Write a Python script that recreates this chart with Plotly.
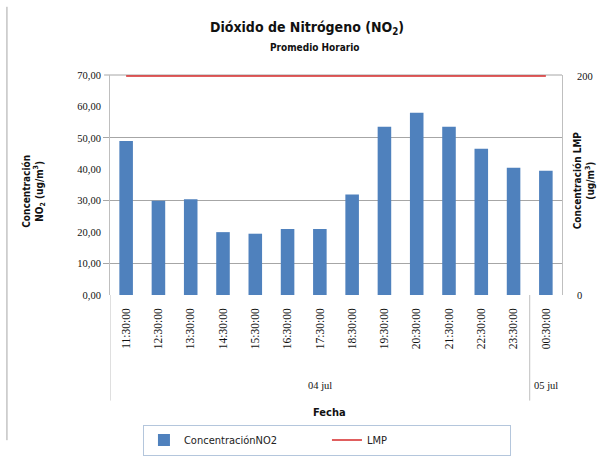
import plotly.graph_objects as go

# ---- data ----
horas = ["11:30:00", "12:30:00", "13:30:00", "14:30:00", "15:30:00", "16:30:00", "17:30:00",
         "18:30:00", "19:30:00", "20:30:00", "21:30:00", "22:30:00", "23:30:00", "00:30:00"]
concentracion_no2 = [49.0, 30.0, 30.5, 20.0, 19.5, 21.0, 21.0, 32.0, 53.5, 58.0, 53.5, 46.5, 40.5, 39.5]
lmp = [200] * len(horas)
dias = ["04 jul", "05 jul"]
dia_centro = [6, 13]          # category index at the centre of each day group
dia_limites = [-0.5, 12.5]     # category boundaries between day groups
y_ticks = [0, 10, 20, 30, 40, 50, 60, 70]
y_ticktext = ["0,00", "10,00", "20,00", "30,00", "40,00", "50,00", "60,00", "70,00"]
y2_ticks = [0, 200]

SANS = "Liberation Sans Narrow, DejaVu Sans Condensed, Arial, sans-serif"
SERIF = "Liberation Serif, DejaVu Serif, serif"
GRID = "#A6A6A6"

fig = go.Figure()
fig.add_trace(go.Bar(
    x=list(range(len(horas))), y=concentracion_no2, name="ConcentraciónNO2",
    marker=dict(color="#4F81BD", line=dict(width=0)), yaxis="y",
))
fig.add_trace(go.Scatter(
    x=list(range(len(horas))), y=lmp, name="LMP", mode="lines",
    line=dict(color="#D62828", width=1.5), yaxis="y2",
))

fig.update_layout(
    width=604, height=457,
    margin=dict(l=110, r=42, t=75, b=162, autoexpand=False),
    paper_bgcolor="white", plot_bgcolor="white",
    bargap=0.58,
    showlegend=True,
    legend=dict(orientation="h", x=0.48, xanchor="center", xref="paper",
                y=0.037, yanchor="middle", yref="container",
                bordercolor="#B4C6DC", borderwidth=1, font=dict(family=SANS, size=11, color="#222"),
                entrywidth=138, itemwidth=30),
    xaxis=dict(
        tickmode="array", tickvals=list(range(len(horas))), ticktext=horas,
        tickangle=-90, tickfont=dict(family=SERIF, size=11.5, color="#111"),
        range=[-0.5, len(horas) - 0.5], showline=False, ticks="", showgrid=False,
        zeroline=False, automargin=False, ticklabelstandoff=10,
    ),
    yaxis=dict(
        range=[0, 70], tickvals=y_ticks, ticktext=y_ticktext,
        tickfont=dict(family=SERIF, size=10.5, color="#111"),
        showgrid=False, showline=True, linecolor="#BFBFBF", linewidth=1,
        ticks="", zeroline=False, automargin=False, ticklabelstandoff=6,
        minor=dict(tickvals=[10, 30, 50], showgrid=True, gridcolor=GRID, gridwidth=1,
                   ticks="outside", ticklen=6, tickcolor=GRID),
    ),
    yaxis2=dict(
        range=[0, 201], tickvals=y2_ticks, ticktext=[str(v) for v in y2_ticks],
        overlaying="y", side="right", showgrid=False, showline=True,
        linecolor="#BFBFBF", linewidth=1, ticks="", zeroline=False, automargin=False,
        tickfont=dict(family=SERIF, size=10.5, color="#111"), ticklabelstandoff=12,
    ),
)

ann = []
ann.append(dict(text="<b>Dióxido de Nitrógeno (NO<sub>2</sub>)</b>", xref="paper", yref="paper",
                x=0.435, y=1.215, xanchor="center", yanchor="middle", showarrow=False,
                font=dict(family=SANS, size=14, color="#111")))
ann.append(dict(text="<b>Promedio Horario</b>", xref="paper", yref="paper",
                x=0.452, y=1.123, xanchor="center", yanchor="middle", showarrow=False,
                font=dict(family=SANS, size=10, color="#111")))
ann.append(dict(text="<b>Concentración<br>NO<sub>2</sub> (ug/m<sup>3</sup>)</b>", xref="paper", yref="paper",
                x=-0.17, y=0.47, xanchor="center", yanchor="middle", textangle=-90, showarrow=False,
                font=dict(family=SANS, size=10, color="#111")))
ann.append(dict(text="<b>Concentración LMP<br>(ug/m<sup>3</sup>)</b>", xref="paper", yref="paper",
                x=1.048, y=0.52, xanchor="center", yanchor="middle", textangle=-90, showarrow=False,
                font=dict(family=SANS, size=10, color="#111")))
ann.append(dict(text="<b>Fecha</b>", xref="paper", yref="paper", x=0.485, y=-0.536,
                xanchor="center", yanchor="middle",
                showarrow=False, font=dict(family=SANS, size=11, color="#111")))
for d, c in zip(dias, dia_centro):
    ann.append(dict(text=d, xref="x", yref="paper", x=c, y=-0.41, xanchor="center", yanchor="middle",
                    showarrow=False, font=dict(family=SERIF, size=10.5, color="#111")))
fig.update_layout(annotations=ann)

shapes = []
# top gridline (70) with outside tick, drawn below traces
shapes.append(dict(type="line", xref="paper", yref="paper", x0=-0.013, x1=1.0, y0=1, y1=1,
                   line=dict(color=GRID, width=1), layer="below"))
for b in dia_limites:
    shapes.append(dict(type="line", xref="x", yref="paper", x0=b, x1=b, y0=0, y1=-0.48,
                       line=dict(color="#BFBFBF", width=1)))
shapes.append(dict(type="line", xref="paper", yref="paper", x0=-0.228, x1=-0.228, y0=1.31, y1=-0.66,
                   line=dict(color="#A6A6A6", width=1)))
fig.update_layout(shapes=shapes)

fig.write_html("out.html", config={"displayModeBar": False},
               post_script="document.body.style.margin='0';document.body.style.padding='0';")
